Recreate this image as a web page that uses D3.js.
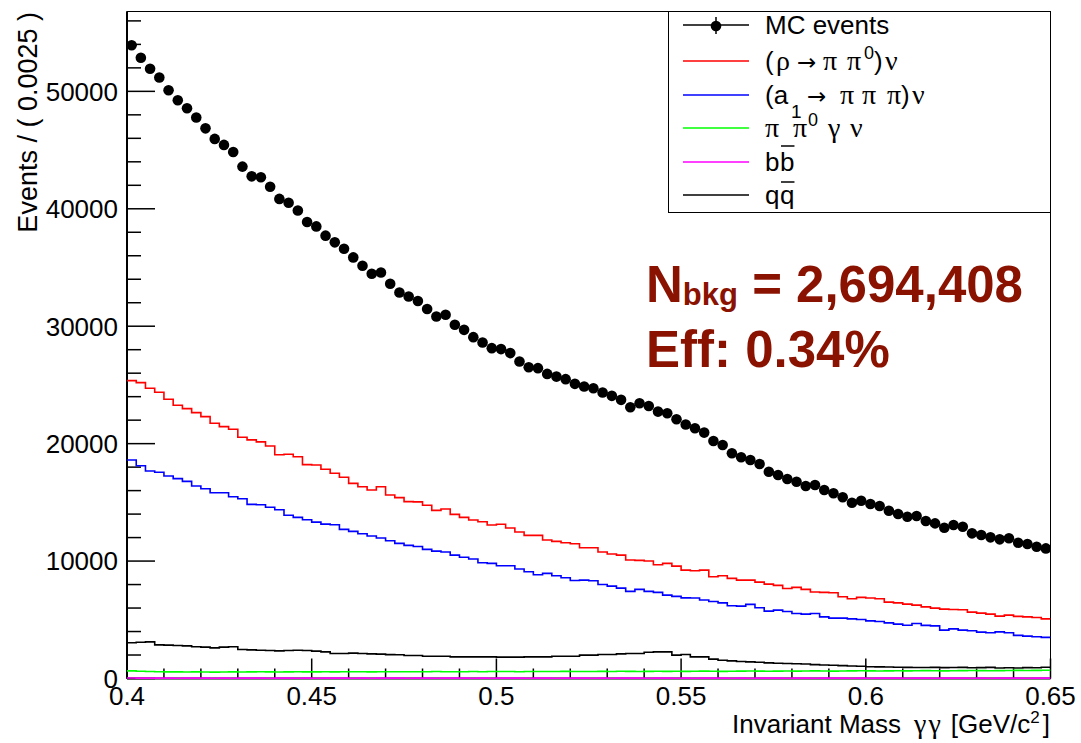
<!DOCTYPE html>
<html>
<head>
    <meta charset="utf-8">
    <title>invariant mass</title>
    <script src="https://d3js.org/d3.v7.min.js"></script>
    <style> body { margin: 0px; background: #fff; } text { white-space: pre; } </style>
</head>
<body>
<svg width="1081" height="743"></svg>
<script>

    // binning: 100 bins of 0.0025 from 0.4 to 0.65
    var xMin = 0.4, xMax = 0.65, binWidth = 0.0025;

    var mcEvents = [
        53930, 52860, 51920, 51180, 50090, 49240, 48560, 47770, 46850, 45950,
        45440, 44840, 43590, 42760, 42680, 41880, 40840, 40520, 39860, 38870,
        38500, 37710, 37140, 36600, 35860, 35150, 34470, 34580, 33610, 32870,
        32530, 32150, 31460, 30830, 30970, 30120, 29690, 29070, 28610, 28130,
        28050, 27710, 26990, 26510, 26430, 25940, 25710, 25490, 25090, 24860,
        24720, 24350, 24070, 23730, 23100, 23440, 23210, 22730, 22590, 22080,
        21630, 21310, 20940, 20230, 19890, 19180, 18840, 18610, 18270, 17610,
        17330, 16990, 16760, 16390, 16480, 16050, 15770, 15430, 14970, 15140,
        14860, 14690, 14290, 14010, 13780, 13840, 13410, 13210, 12840, 13070,
        12920, 12360, 12220, 12020, 11850, 11940, 11560, 11450, 11220, 11080
    ];

    var rhoNu = [
        25370, 25200, 24720, 24380, 23780, 23270, 22980, 22640, 22300, 21740,
        21450, 21230, 20550, 20320, 20150, 19800, 19060, 19100, 18890, 18210,
        18180, 17820, 17480, 17140, 16620, 16330, 16050, 16330, 15630, 15400,
        15060, 15040, 14750, 14320, 14430, 13980, 13720, 13500, 13350, 13070,
        13130, 12810, 12470, 12190, 12190, 11790, 11680, 11560, 11470, 11130,
        11130, 10770, 10600, 10510, 10090, 10060, 10000, 9690, 9800, 9570,
        9230, 9170, 9230, 8660, 8750, 8530, 8380, 8380, 8210, 8040,
        7930, 7670, 7760, 7590, 7360, 7330, 7300, 6960, 6790, 6910,
        6850, 6790, 6500, 6440, 6330, 6250, 6100, 5990, 5910, 5880,
        5850, 5650, 5570, 5480, 5310, 5400, 5290, 5250, 5200, 5080
    ];

    var a1Nu = [
        18610, 18120, 17670, 17560, 17250, 17020, 16790, 16390, 16160, 15820,
        15820, 15480, 15310, 14830, 14800, 14580, 14370, 13900, 13720, 13520,
        13320, 13150, 13090, 12700, 12530, 12330, 12130, 11960, 11730, 11510,
        11340, 11240, 11000, 10850, 10770, 10510, 10320, 10170, 9860, 9800,
        9600, 9600, 9320, 9090, 8830, 8950, 8750, 8580, 8350, 8380,
        8320, 8010, 7870, 7700, 7420, 7590, 7420, 7330, 7100, 6990,
        6870, 6850, 6680, 6560, 6440, 6190, 6160, 6310, 6020, 5740,
        5820, 5710, 5540, 5480, 5540, 5250, 5140, 5140, 5080, 5030,
        4910, 4860, 4740, 4630, 4540, 4690, 4520, 4480, 4120, 4230,
        4120, 4060, 3950, 3890, 3970, 3890, 3670, 3610, 3550, 3500
    ];

    var pipi0GammaNu = [
        650, 620, 590, 570, 560, 560, 550, 560, 550, 540,
        550, 560, 550, 560, 570, 560, 550, 560, 570, 560,
        560, 570, 560, 570, 580, 570, 560, 570, 580, 570,
        580, 570, 580, 590, 580, 570, 580, 590, 580, 590,
        600, 590, 580, 590, 600, 590, 600, 610, 600, 590,
        600, 610, 600, 620, 610, 600, 610, 620, 610, 620,
        610, 620, 630, 620, 610, 620, 630, 640, 630, 620,
        630, 640, 630, 640, 650, 640, 630, 640, 650, 660,
        650, 640, 650, 660, 650, 660, 670, 660, 650, 660,
        670, 680, 670, 660, 670, 680, 690, 680, 690, 700
    ];

    var bbbar = [
        40, 35, 30, 35, 30, 25, 30, 35, 30, 25,
        30, 25, 30, 35, 30, 25, 30, 30, 25, 30,
        25, 30, 35, 30, 25, 30, 25, 30, 35, 30,
        25, 30, 30, 25, 30, 35, 30, 25, 30, 25,
        30, 35, 30, 25, 30, 30, 25, 30, 35, 30,
        25, 30, 25, 30, 35, 30, 25, 30, 30, 25,
        30, 25, 30, 35, 30, 25, 30, 25, 30, 35,
        30, 25, 30, 30, 25, 30, 35, 30, 25, 30,
        25, 30, 35, 30, 25, 30, 30, 25, 30, 35,
        30, 25, 30, 25, 30, 35, 30, 25, 30, 30
    ];

    var qqbar = [
        3040, 3090, 3120, 2860, 2840, 2810, 2780, 2700, 2670, 2610,
        2670, 2700, 2470, 2440, 2410, 2380, 2350, 2380, 2410, 2380,
        2330, 2270, 2130, 2130, 2160, 2130, 2100, 2080, 2030, 2020,
        1960, 1960, 1900, 1900, 1900, 1840, 1840, 1840, 1840, 1840,
        1820, 1820, 1820, 1840, 1840, 1840, 1900, 1900, 1900, 1990,
        1990, 2050, 2050, 2100, 2130, 2130, 2240, 2270, 2270, 1990,
        2050, 1840, 1840, 1650, 1560, 1500, 1450, 1420, 1380, 1330,
        1300, 1280, 1260, 1230, 1180, 1150, 1130, 1100, 1070, 1040,
        1000, 990, 980, 960, 950, 940, 940, 950, 930, 940,
        950, 920, 930, 950, 900, 910, 890, 930, 920, 960
    ];

    var xTicks = [0.4, 0.45, 0.5, 0.55, 0.6, 0.65];
    var yTicks = [0, 10000, 20000, 30000, 40000, 50000];

    var histos = [
        {values: rhoNu, color: "#ff0000"},
        {values: a1Nu, color: "#0000ff"},
        {values: qqbar, color: "#000000"},
        {values: pipi0GammaNu, color: "#00ff00"},
        {values: bbbar, color: "#ff00ff"}
    ];

    var svg = d3.select("svg"),
        pLeft = 127, pRight = 1050.5, pTop = 11.5, pBottom = 678.5,
        font = "'Liberation Sans', Arial, Helvetica, sans-serif",
        greek = "'Liberation Serif', 'DejaVu Serif', serif",
        arrowFont = "'DejaVu Sans', sans-serif";

    svg.append("rect").attr("width", 1081).attr("height", 743).attr("fill", "#fff");

    var x = d3.scaleLinear().domain([xMin, xMax]).range([pLeft, pRight]),
        y = d3.scaleLinear().domain([0, 56800]).range([pBottom, pTop]);

    svg.append("clipPath").attr("id", "clip")
        .append("rect")
        .attr("x", pLeft).attr("y", pTop)
        .attr("width", pRight - pLeft).attr("height", pBottom - pTop + 2);

    // frame
    svg.append("rect")
        .attr("x", pLeft).attr("y", pTop)
        .attr("width", pRight - pLeft).attr("height", pBottom - pTop)
        .attr("fill", "none").attr("stroke", "#000").attr("stroke-width", 1);

    // y axis, ticks inside
    var yAxis = svg.append("g");
    yAxis.append("line")
        .attr("x1", pLeft).attr("x2", pLeft).attr("y1", pTop).attr("y2", pBottom)
        .attr("stroke", "#000").attr("stroke-width", 2);
    yAxis.selectAll(".ymin")
        .data(d3.range(0, 56001, 2000))
        .enter().append("line")
        .attr("x1", pLeft).attr("x2", function (d){ return pLeft + (d % 10000 === 0 ? 28 : 14); })
        .attr("y1", function (d){ return y(d); }).attr("y2", function (d){ return y(d); })
        .attr("stroke", "#000").attr("stroke-width", 1.5);
    yAxis.selectAll("text")
        .data(yTicks)
        .enter().append("text")
        .attr("x", 118).attr("y", function (d){ return y(d); })
        .attr("dy", "0.36em")
        .attr("text-anchor", "end")
        .style("font-family", font).style("font-size", "26px")
        .text(function (d){ return d; });

    svg.append("text")
        .attr("transform", "translate(37,12) rotate(-90)")
        .attr("text-anchor", "end")
        .style("font-family", font).style("font-size", "27px")
        .text("Events / ( 0.0025 )");

    // x axis, ticks inside
    var xAxis = svg.append("g");
    xAxis.append("line")
        .attr("x1", pLeft).attr("x2", pRight).attr("y1", pBottom).attr("y2", pBottom)
        .attr("stroke", "#000").attr("stroke-width", 2);
    xAxis.selectAll(".xmin")
        .data(d3.range(0, 26))
        .enter().append("line")
        .attr("x1", function (d){ return x(xMin + d * 0.01); })
        .attr("x2", function (d){ return x(xMin + d * 0.01); })
        .attr("y1", pBottom)
        .attr("y2", function (d){ return pBottom - (d % 5 === 0 ? 20 : 10); })
        .attr("stroke", "#000").attr("stroke-width", 1.5);
    xAxis.selectAll("text")
        .data(xTicks)
        .enter().append("text")
        .attr("x", function (d){ return x(d); }).attr("y", 705)
        .attr("text-anchor", "middle")
        .style("font-family", font).style("font-size", "26px")
        .text(function (d){ return d; });

    var xTitle = svg.append("text")
        .attr("x", 1050).attr("y", 733)
        .attr("text-anchor", "end")
        .style("font-family", font).style("font-size", "26px");
    xTitle.append("tspan").text("Invariant Mass");
    xTitle.append("tspan").attr("dx", 13).style("font-family", greek).style("font-size", "28px")
        .style("letter-spacing", "2px").text("\u03b3\u03b3");
    xTitle.append("tspan").attr("dx", 8).text("[GeV/c");
    xTitle.append("tspan").attr("dx", 0).attr("dy", -10).style("font-size", "17px").text("2");
    xTitle.append("tspan").attr("dx", 3).attr("dy", 10).text("]");

    // histograms as steps
    var step = d3.line()
        .x(function (d){ return x(d[0]); })
        .y(function (d){ return y(d[1]); })
        .curve(d3.curveStepAfter);

    var plot = svg.append("g").attr("clip-path", "url(#clip)");
    histos.forEach(function (h){
        var pts = h.values.map(function (v, i){ return [xMin + i * binWidth, v]; });
        pts.push([xMax, h.values[h.values.length - 1]]);
        plot.append("path")
            .attr("d", step(pts))
            .attr("fill", "none")
            .attr("stroke", h.color)
            .attr("stroke-width", 1.6);
    });

    // MC points
    var mc = plot.selectAll(".mc")
        .data(mcEvents)
        .enter().append("g");
    mc.append("line")
        .attr("x1", function (d, i){ return x(xMin + (i + 0.5) * binWidth); })
        .attr("x2", function (d, i){ return x(xMin + (i + 0.5) * binWidth); })
        .attr("y1", function (d){ return y(d + Math.sqrt(d)); })
        .attr("y2", function (d){ return y(d - Math.sqrt(d)); })
        .attr("stroke", "#000");
    mc.append("circle")
        .attr("cx", function (d, i){ return x(xMin + (i + 0.5) * binWidth); })
        .attr("cy", function (d){ return y(d); })
        .attr("r", 5.3)
        .attr("fill", "#000");

    // legend
    var legend = svg.append("g");
    legend.append("rect")
        .attr("x", 668.5).attr("y", 11.5).attr("width", 382).attr("height", 201)
        .attr("fill", "#fff").attr("stroke", "#000").attr("stroke-width", 1);

    // parts: [text, style, x offset from text start, y offset from baseline]
    // style: g = greek, a = arrow, sup / sub = small digit, bar = overline
    var legendRows = [
        {color: "#000", parts: [["MC events", "", 0, 0]]},
        {color: "#ff0000", parts: [["(", "", 0, 0], ["\u03c1", "g", 11, 0], ["\u2192", "a", 32, 0],
            ["\u03c0", "g", 58, 0], ["\u03c0", "g", 82, 0], ["0", "sup", 99, -11], [")", "", 109, 0], ["\u03bd", "g", 120, 0]]},
        {color: "#0000ff", parts: [["(a", "", 0, 0], ["1", "sub", 26, 14], ["\u2192", "a", 42, 0],
            ["\u03c0", "g", 75, 0], ["\u03c0", "g", 97, 0], ["\u03c0", "g", 122, 0], [")", "", 136, 0], ["\u03bd", "g", 147, 0]]},
        {color: "#00ff00", parts: [["\u03c0", "g", 0, 0], ["\u03c0", "g", 28, 0], ["0", "sup", 43, -11],
            ["\u03b3", "g", 63, 0], ["\u03bd", "g", 85, 0]]},
        {color: "#ff00ff", parts: [["b", "", 0, 0], ["b", "bar", 15, 0]]},
        {color: "#000", parts: [["q", "", 0, 0], ["q", "bar", 15, 0]]}
    ];
    var rowY = [25, 61, 95, 128, 162, 195],
        textX = 765;

    legendRows.forEach(function (r, i){
        legend.append("line")
            .attr("x1", 683).attr("x2", 749).attr("y1", rowY[i]).attr("y2", rowY[i])
            .attr("stroke", r.color).attr("stroke-width", 1.5);
        if (i === 0){
            legend.append("line")
                .attr("x1", 716).attr("x2", 716).attr("y1", rowY[i] - 8).attr("y2", rowY[i] + 9)
                .attr("stroke", "#000").attr("stroke-width", 1.5);
            legend.append("circle")
                .attr("cx", 716).attr("cy", rowY[i] + 1).attr("r", 5.3).attr("fill", "#000");
        }
        var base = rowY[i] + 9;
        var t = legend.append("text")
            .attr("x", textX).attr("y", base)
            .style("font-family", font).style("font-size", "26px");
        r.parts.forEach(function (p){
            var s = t.append("tspan")
                .attr("x", textX + p[2]).attr("y", base + p[3])
                .text(p[0]);
            if (p[1] === "g") s.style("font-family", greek).style("font-size", "28px");
            if (p[1] === "a") s.style("font-family", arrowFont).style("font-size", "23px");
            if (p[1] === "sup") s.style("font-size", "18px");
            if (p[1] === "sub") s.style("font-size", "19px");
        });
        // overline on the second letter of b-bbar and q-qbar
        if (i >= 4){
            var node = t.node(),
                x0 = node.getStartPositionOfChar(1).x,
                x1 = node.getEndPositionOfChar(1).x;
            legend.append("line")
                .attr("x1", x0 + 1).attr("x2", x1)
                .attr("y1", rowY[i] + (i === 4 ? -16 : -13))
                .attr("y2", rowY[i] + (i === 4 ? -16 : -13))
                .attr("stroke", "#000").attr("stroke-width", 1.5);
        }
    });

    // N_bkg / efficiency
    var note = svg.append("g")
        .style("font-family", font).style("font-weight", "bold").attr("fill", "#8a1200");
    var n1 = note.append("text").attr("x", 646).attr("y", 302).style("font-size", "51px");
    n1.append("tspan").text("N");
    n1.append("tspan").attr("dy", 3).style("font-size", "31px").text("bkg");
    n1.append("tspan").attr("dy", -3).text(" = 2,694,408");
    note.append("text").attr("x", 646).attr("y", 367).style("font-size", "51px").text("Eff: 0.34%");

</script>
</body>
</html>
